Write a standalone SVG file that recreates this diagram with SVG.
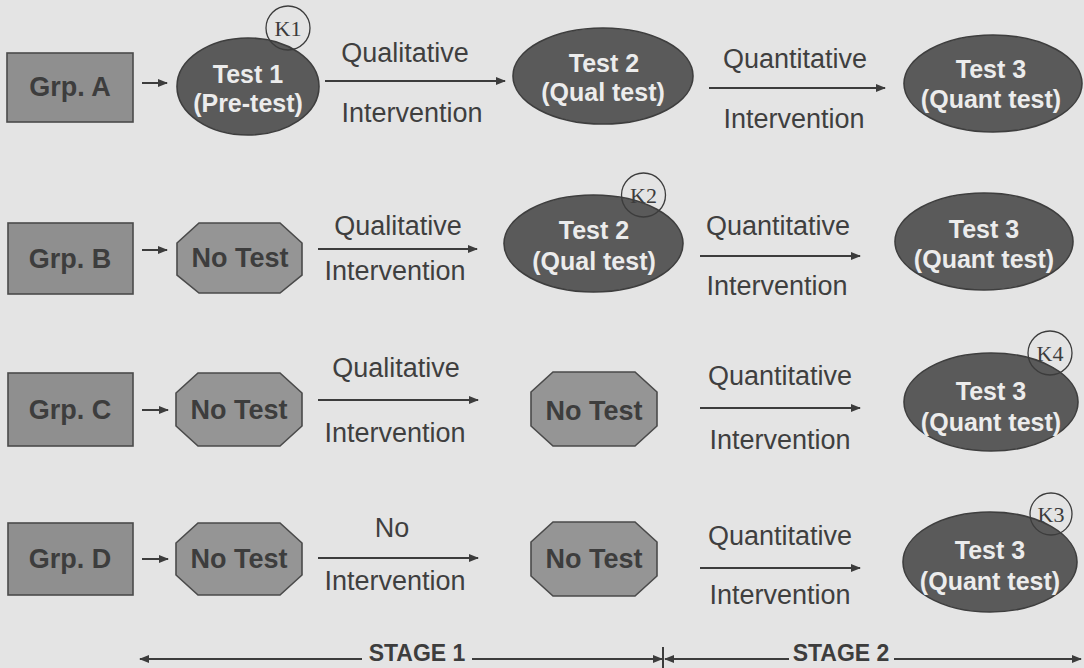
<svg xmlns="http://www.w3.org/2000/svg" width="1084" height="668" viewBox="0 0 1084 668">
  <defs>
    <marker id="ah" viewBox="0 0 10 8" refX="9" refY="4" markerWidth="10" markerHeight="8" markerUnits="userSpaceOnUse" orient="auto-start-reverse">
      <path d="M0,0 L10,4 L0,8 Z" fill="#3c3c3c"/>
    </marker>
    <style>
      .bg { fill: #e4e4e4; }
      .grp { fill: #8f8f8f; stroke: #4a4a4a; stroke-width: 1.6; }
      .oct { fill: #959595; stroke: #4a4a4a; stroke-width: 1.6; }
      .test { fill: #5a5a5a; stroke: #3e3e3e; stroke-width: 1.6; }
      .kc { fill: none; stroke: #3c3c3c; stroke-width: 1.3; }
      .lbl { font-family: "Liberation Sans", Arial, sans-serif; font-weight: bold; fill: #3d3d3d; text-anchor: middle; }
      .wt { font-family: "Liberation Sans", Arial, sans-serif; font-weight: bold; fill: #ececec; text-anchor: middle; font-size: 25px; }
      .k { font-family: "Liberation Serif", "Times New Roman", serif; fill: #3c3c3c; text-anchor: middle; font-size: 22px; }
      .edge { font-family: "Liberation Sans", Arial, sans-serif; fill: #3f3f3f; text-anchor: middle; font-size: 27px; }
      .ln { stroke: #3c3c3c; stroke-width: 2; fill: none; }
      .stage { font-family: "Liberation Sans", Arial, sans-serif; font-weight: bold; fill: #3d3d3d; text-anchor: middle; font-size: 23px; }
    </style>
  </defs>

  <rect class="bg" x="0" y="0" width="1084" height="668"/>

  <!-- Row A -->
  <g id="grp-a">
    <rect class="grp" x="7" y="53" width="126" height="69"/>
    <text class="lbl" x="70" y="96" font-size="27">Grp. A</text>
  </g>
  <g id="a-test1">
    <ellipse class="test" cx="248" cy="86.5" rx="71" ry="48.5"/>
    <text class="wt" x="248" y="83">Test 1</text>
    <text class="wt" x="248" y="112">(Pre-test)</text>
  </g>
  <g id="k1">
    <circle class="kc" cx="288" cy="28" r="22"/>
    <text class="k" x="288" y="36">K1</text>
  </g>
  <g id="a-test2">
    <ellipse class="test" cx="603" cy="76" rx="90" ry="48"/>
    <text class="wt" x="604" y="72">Test 2</text>
    <text class="wt" x="603" y="101">(Qual test)</text>
  </g>
  <g id="a-test3">
    <ellipse class="test" cx="993" cy="83.5" rx="89" ry="48.5"/>
    <text class="wt" x="991" y="78">Test 3</text>
    <text class="wt" x="991" y="108">(Quant test)</text>
  </g>

  <!-- Row B -->
  <g id="grp-b">
    <rect class="grp" x="8" y="223" width="125" height="71"/>
    <text class="lbl" x="70" y="268" font-size="27">Grp. B</text>
  </g>
  <g id="b-none">
    <polygon class="oct" points="199,223 280,223 302,243 302,275 280,293 199,293 177,275 177,243"/>
    <text class="lbl" x="240" y="267" font-size="27">No Test</text>
  </g>
  <g id="b-test2">
    <ellipse class="test" cx="593.5" cy="243.5" rx="89.5" ry="48.5"/>
    <text class="wt" x="594" y="239">Test 2</text>
    <text class="wt" x="594" y="270">(Qual test)</text>
  </g>
  <g id="k2">
    <circle class="kc" cx="643.5" cy="195" r="22"/>
    <text class="k" x="643.5" y="203">K2</text>
  </g>
  <g id="b-test3">
    <ellipse class="test" cx="984" cy="241.5" rx="89" ry="48.5"/>
    <text class="wt" x="984" y="238">Test 3</text>
    <text class="wt" x="984" y="268">(Quant test)</text>
  </g>

  <!-- Row C -->
  <g id="grp-c">
    <rect class="grp" x="8" y="373" width="125" height="73"/>
    <text class="lbl" x="70" y="419" font-size="27">Grp. C</text>
  </g>
  <g id="c-none1">
    <polygon class="oct" points="198,373 280,373 302,393 302,426 280,446 198,446 176,426 176,393"/>
    <text class="lbl" x="239" y="419" font-size="27">No Test</text>
  </g>
  <g id="c-none2">
    <polygon class="oct" points="553,372 635,372 657,392 657,426 635,446 553,446 531,426 531,392"/>
    <text class="lbl" x="594" y="420" font-size="27">No Test</text>
  </g>
  <g id="c-test3">
    <ellipse class="test" cx="991" cy="402" rx="87" ry="49"/>
    <text class="wt" x="991" y="400">Test 3</text>
    <text class="wt" x="991" y="431">(Quant test)</text>
  </g>
  <g id="k4">
    <circle class="kc" cx="1050" cy="353" r="22"/>
    <text class="k" x="1050" y="361">K4</text>
  </g>

  <!-- Row D -->
  <g id="grp-d">
    <rect class="grp" x="8" y="523" width="125" height="72"/>
    <text class="lbl" x="70" y="568" font-size="27">Grp. D</text>
  </g>
  <g id="d-none1">
    <polygon class="oct" points="198,523 280,523 302,543 302,575 280,595 198,595 176,575 176,543"/>
    <text class="lbl" x="239" y="568" font-size="27">No Test</text>
  </g>
  <g id="d-none2">
    <polygon class="oct" points="553,522 635,522 657,542 657,576 635,596 553,596 531,576 531,542"/>
    <text class="lbl" x="594" y="568" font-size="27">No Test</text>
  </g>
  <g id="d-test3">
    <ellipse class="test" cx="990" cy="562" rx="87" ry="50"/>
    <text class="wt" x="990" y="559">Test 3</text>
    <text class="wt" x="990" y="590">(Quant test)</text>
  </g>
  <g id="k3">
    <circle class="kc" cx="1051" cy="514" r="21"/>
    <text class="k" x="1051" y="522">K3</text>
  </g>

  <!-- Connectors -->
  <g id="connectors">
    <!-- group to first stage -->
    <line class="ln" x1="142" y1="83" x2="167" y2="83" marker-end="url(#ah)"/>
    <line class="ln" x1="142" y1="250" x2="167" y2="250" marker-end="url(#ah)"/>
    <line class="ln" x1="142" y1="410" x2="168" y2="410" marker-end="url(#ah)"/>
    <line class="ln" x1="142" y1="559" x2="168" y2="559" marker-end="url(#ah)"/>

    <!-- stage 1 interventions -->
    <line class="ln" x1="325" y1="81" x2="505" y2="81" marker-end="url(#ah)"/>
    <text class="edge" x="405" y="62">Qualitative</text>
    <text class="edge" x="412" y="122">Intervention</text>

    <line class="ln" x1="318" y1="249" x2="477" y2="249" marker-end="url(#ah)"/>
    <text class="edge" x="398" y="235">Qualitative</text>
    <text class="edge" x="395" y="280">Intervention</text>

    <line class="ln" x1="318" y1="400" x2="478" y2="400" marker-end="url(#ah)"/>
    <text class="edge" x="396" y="377">Qualitative</text>
    <text class="edge" x="395" y="442">Intervention</text>

    <line class="ln" x1="318" y1="558" x2="478" y2="558" marker-end="url(#ah)"/>
    <text class="edge" x="392" y="537">No</text>
    <text class="edge" x="395" y="590">Intervention</text>

    <!-- stage 2 interventions -->
    <line class="ln" x1="709" y1="88" x2="885" y2="88" marker-end="url(#ah)"/>
    <text class="edge" x="795" y="68">Quantitative</text>
    <text class="edge" x="794" y="128">Intervention</text>

    <line class="ln" x1="700" y1="256" x2="860" y2="256" marker-end="url(#ah)"/>
    <text class="edge" x="778" y="235">Quantitative</text>
    <text class="edge" x="777" y="295">Intervention</text>

    <line class="ln" x1="700" y1="408" x2="860" y2="408" marker-end="url(#ah)"/>
    <text class="edge" x="780" y="385">Quantitative</text>
    <text class="edge" x="780" y="449">Intervention</text>

    <line class="ln" x1="700" y1="568" x2="860" y2="568" marker-end="url(#ah)"/>
    <text class="edge" x="780" y="545">Quantitative</text>
    <text class="edge" x="780" y="604">Intervention</text>

    <!-- stage span indicator -->
    <line class="ln" x1="362" y1="659" x2="140" y2="659" marker-end="url(#ah)"/>
    <line class="ln" x1="472" y1="659" x2="662" y2="659" marker-end="url(#ah)"/>
    <line class="ln" x1="663" y1="647" x2="663" y2="668"/>
    <line class="ln" x1="789" y1="659" x2="665" y2="659" marker-end="url(#ah)"/>
    <line class="ln" x1="894" y1="659" x2="1081" y2="659" marker-end="url(#ah)"/>
  </g>

  <text class="stage" x="417" y="661">STAGE 1</text>
  <text class="stage" x="841" y="661">STAGE 2</text>
</svg>
